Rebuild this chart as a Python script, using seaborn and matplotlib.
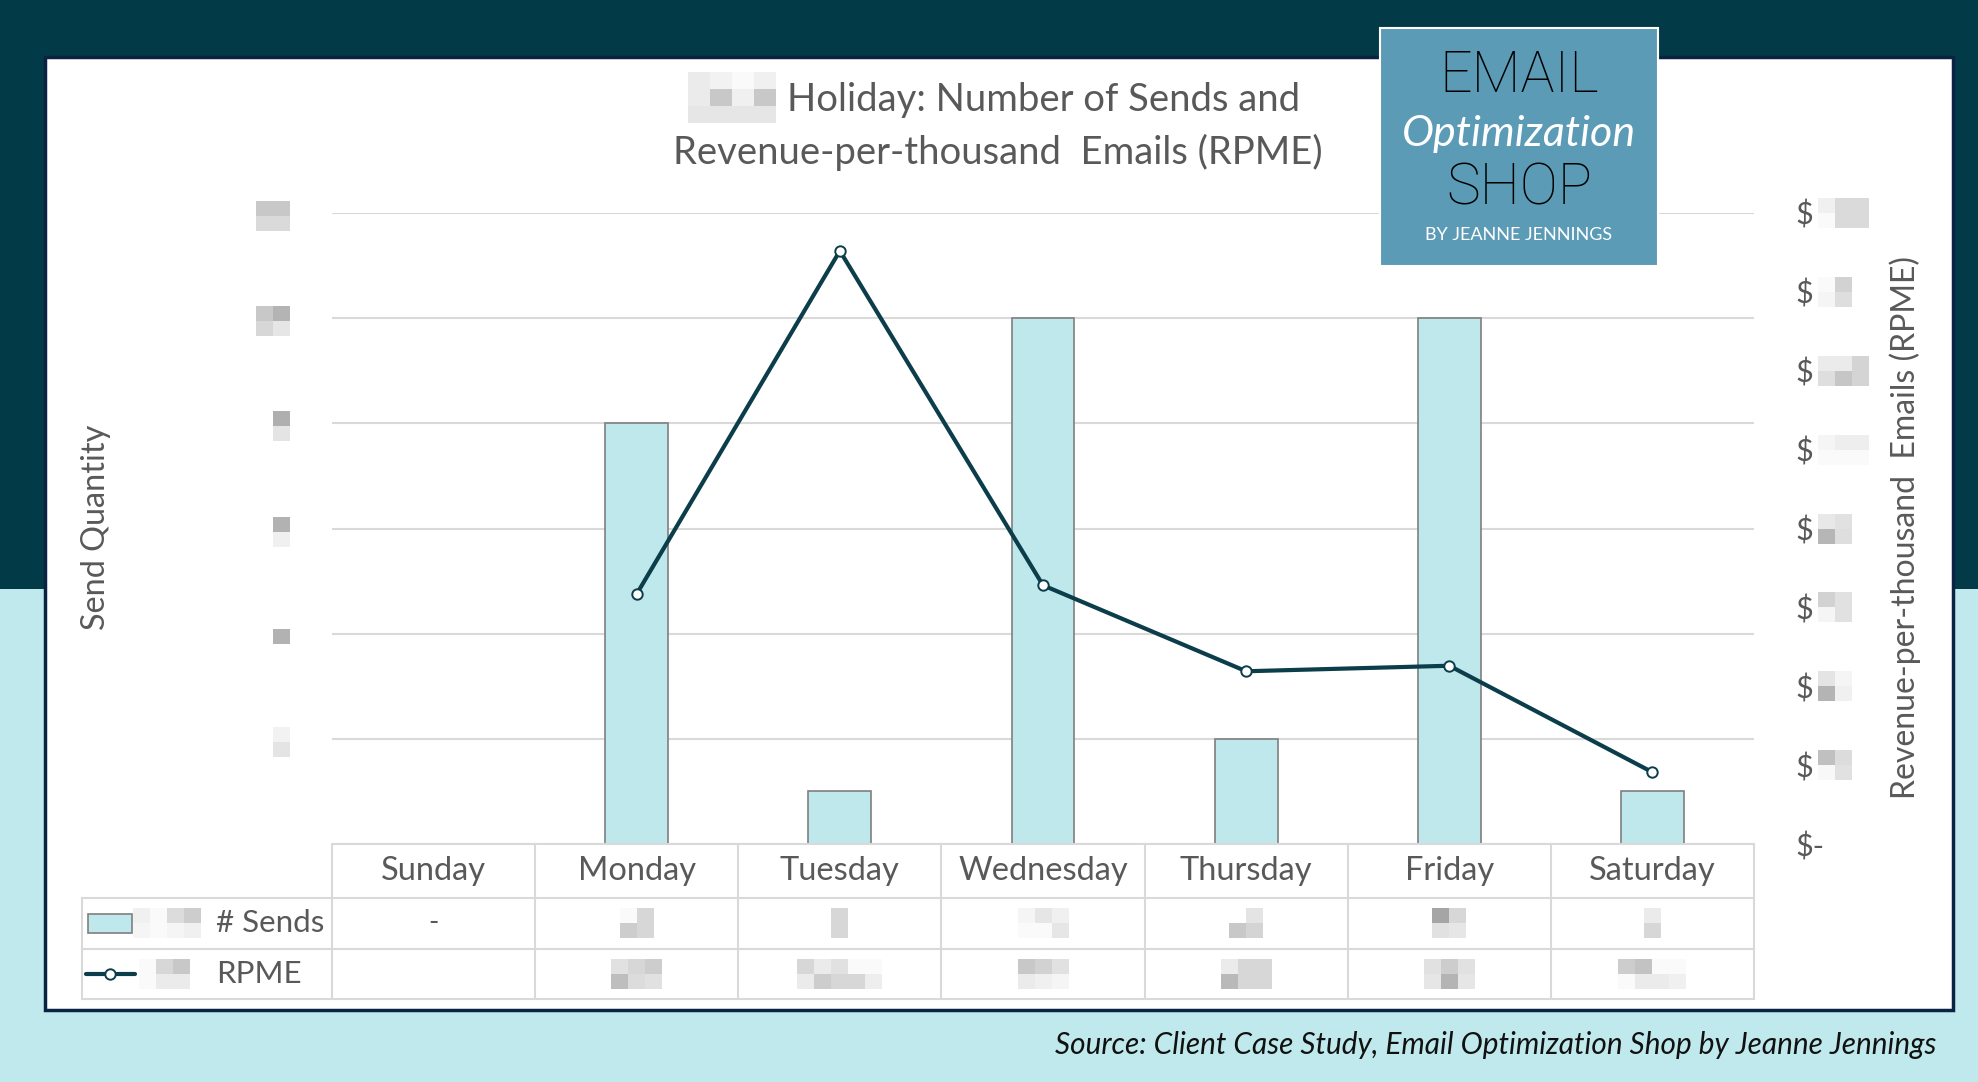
import numpy as np
import seaborn as sns
import matplotlib.pyplot as plt
from matplotlib.patches import Rectangle
from matplotlib.lines import Line2D
from matplotlib.transforms import Affine2D

# values read off the picture (real numbers are pixelated in the source,
# so they are kept in gridline units)
days = ['Sunday', 'Monday', 'Tuesday', 'Wednesday', 'Thursday', 'Friday', 'Saturday']
sends = [0, 4, 0.5, 5, 1, 5, 0.5]
rpme = [np.nan, 3.17, 7.52, 3.28, 2.19, 2.26, 0.91]
left_ticks = [0, 1, 2, 3, 4, 5, 6]
right_ticks = [0, 1, 2, 3, 4, 5, 6, 7, 8]
right_labels = ['$-'] + ['$'] * 8
sends_cells = ['-', '', '', '', '', '', '']

# grey shades of the pixelated (redacted) numbers
left_blur = {6: [[200, 200], [218, 218]], 5: [[200, 180], [215, 230]],
             4: [[None, 175], [None, 228]], 3: [[None, 178], [None, 240]],
             2: [[None, 178]], 1: [[None, 242], [None, 228]]}
right_blur = {8: [[240, 218, 218], [250, 218, 218]], 7: [[250, 210], [245, 222]],
              6: [[235, 235, 212], [222, 198, 212]], 5: [[245, 238, 238], [250, 250, 250]],
              4: [[232, 225], [182, 222]], 3: [[210, 225], [245, 225]],
              2: [[228, 245], [180, 240]], 1: [[192, 220], [248, 225]]}
sends_blur = [None, [[250, 215], [205, 215]], [[215], [215]], [[245, 230, 240], [250, 250, 230]],
              [[None, 228], [200, 212]], [[165, 215], [225, 230]], [[235], [215]]]
rpme_blur = [None, [[225, 215, 205], [190, 220, 225]], [[215, 235, 225, 250, 250], [235, 205, 215, 215, 238]],
             [[200, 210, 225], [235, 240, 245]], [[235, 215, 215], [185, 215, 215]],
             [[225, 205, 225], [230, 180, 230]], [[205, 195, 250, 250], [250, 235, 235, 240]]]

DARK = '#033A48'
CYAN_BG = '#BFE9EC'
BAR = '#BEE8EC'
LINE = '#0B3D4A'
GRID = '#D9D9D9'
TXT = '#595959'

W, H = 1978, 1082
sns.set_theme(style='white')
plt.rcParams['font.family'] = ['Lato', 'DejaVu Sans']

fig = plt.figure(figsize=(W / 100, H / 100), dpi=100)
fig.patch.set_facecolor(CYAN_BG)
# pixel coords, y measured from the top
px = Affine2D().scale(1 / W, -1 / H).translate(0, 1) + fig.transFigure

fig.add_artist(Rectangle((0, 0), W, 589, transform=px, facecolor=DARK, edgecolor='none', zorder=-10))
fig.add_artist(Rectangle((45, 57), 1908, 953, transform=px, facecolor='white',
                         edgecolor='#0A2342', lw=2.5, zorder=-9))


def pix(x0, y0, rows, cw=17, ch=15):
    for r, row in enumerate(rows):
        for c, g in enumerate(row):
            if g is None:
                continue
            fig.add_artist(Rectangle((x0 + c * cw, y0 + r * ch), cw, ch, transform=px,
                                     facecolor=str(g / 255), edgecolor='none', zorder=5))


ax = fig.add_axes([332 / W, 1 - 844 / H, (1754 - 332) / W, (844 - 213) / H])
ax.set_facecolor('none')
sns.barplot(x=days, y=sends, ax=ax, color=BAR, edgecolor='#7F7F7F', linewidth=1.2,
            width=0.31, saturation=1)
ax.set_xlim(-0.5, 6.5)
ax.set_ylim(0, 6)
ax.set_yticks(left_ticks)
ax.set_yticklabels([])
ax.set_xticks([])
ax.set_xlabel('')
ax.set_ylabel('')
ax.grid(axis='y', color=GRID, lw=1.5)
ax.set_axisbelow(True)
ax.tick_params(length=0)
for s in ax.spines.values():
    s.set_visible(False)

ax2 = ax.twinx()
ax2.set_facecolor('none')
sns.lineplot(x=np.arange(7), y=rpme, ax=ax2, color=LINE, lw=3, marker='o', markersize=7.5,
             markerfacecolor='white', markeredgecolor=LINE, markeredgewidth=1.4)
ax2.set_xlim(-0.5, 6.5)
ax2.set_ylim(0, 8)
ax2.set_yticks(right_ticks)
ax2.set_yticklabels(right_labels)
ax2.tick_params(axis='y', length=0, pad=30, labelsize=22, labelcolor=TXT)
ax2.set_ylabel('')
ax2.grid(False)
for s in ax2.spines.values():
    s.set_visible(False)

fig.canvas.draw()


def ypix(a, v):
    return H - a.transData.transform((0, v))[1]


def xpix(v):
    return ax.transData.transform((v, 0))[0]


# pixelated tick values
for v, rows in left_blur.items():
    y = ypix(ax, v)
    pix(290 - 2 * 17, y - 15 * len(rows) / 2 + 3, rows)
for v, rows in right_blur.items():
    y = ypix(ax2, v)
    pix(1818, y - 15 * len(rows) / 2, rows)

# data table under the plot
xb = [xpix(i - 0.5) for i in range(8)]
tbl = dict(transform=px, color=GRID, lw=1.5, zorder=4)
fig.add_artist(Line2D([xb[0], xb[-1]], [844, 844], **tbl))
for y in [898, 949, 999]:
    fig.add_artist(Line2D([82, xb[-1]], [y, y], **tbl))
for x in xb:
    fig.add_artist(Line2D([x, x], [844, 999], **tbl))
fig.add_artist(Line2D([82, 82], [898, 999], **tbl))

for i, d in enumerate(days):
    cx = (xb[i] + xb[i + 1]) / 2
    fig.text(cx / W, 1 - 871 / H, d, ha='center', va='center', fontsize=23.5, color=TXT)
    if sends_cells[i]:
        fig.text(cx / W, 1 - 923 / H, sends_cells[i], ha='center', va='center', fontsize=20, color=TXT)
    if sends_blur[i]:
        rows = sends_blur[i]
        pix(cx - 17 * len(rows[0]) / 2, 923 - 15, rows)
    if rpme_blur[i]:
        rows = rpme_blur[i]
        pix(cx - 17 * len(rows[0]) / 2, 974 - 15, rows)

# legend keys in the table
fig.add_artist(Rectangle((88, 914), 44, 19, transform=px, facecolor=BAR, edgecolor='#7F7F7F', lw=1.2, zorder=5))
pix(133, 908, [[240, 250, 220, 205], [245, 250, 245, 240]])
fig.add_artist(Line2D([86, 135], [974, 974], transform=px, color=LINE, lw=3, zorder=5))
fig.add_artist(Line2D([110], [974], transform=px, color=LINE, marker='o', markersize=7.5,
                      markerfacecolor='white', markeredgewidth=1.4, zorder=6))
pix(139, 959, [[250, 215, 200], [250, 235, 235]])
fig.text(216 / W, 1 - 923 / H, '# Sends', ha='left', va='center', fontsize=22.5, color=TXT)
fig.text(216 / W, 1 - 974 / H, 'RPME', ha='left', va='center', fontsize=22.5, color=TXT)

# titles and axis labels
pix(688, 72, [[235, 242, 250, 240], [235, 200, 240, 200], [230, 230, 230, 230]], cw=22, ch=17)
fig.text(787 / W, 1 - 100 / H, 'Holiday: Number of Sends and', ha='left', va='center',
         fontsize=27.5, color=TXT)
fig.text(998 / W, 1 - 152 / H, 'Revenue-per-thousand  Emails (RPME)', ha='center', va='center',
         fontsize=27.5, color=TXT)
fig.text(96 / W, 1 - 527 / H, 'Send Quantity', rotation=90, ha='center', va='center',
         fontsize=23.3, color=TXT)
fig.text(1905 / W, 1 - 527 / H, 'Revenue-per-thousand  Emails (RPME)', rotation=90,
         ha='center', va='center', fontsize=23, color=TXT)
fig.text(1936 / W, 1 - 1045 / H, 'Source: Client Case Study, Email Optimization Shop by Jeanne Jennings',
         ha='right', va='center', fontsize=21.4, style='italic', color='#111111')

# logo box
fig.add_artist(Rectangle((1380, 28), 278, 238, transform=px, facecolor='#5C9BB6',
                         edgecolor='white', lw=1.5, zorder=8))
logo = dict(ha='center', va='center', zorder=9)
fig.text(1519 / W, 1 - 77 / H, 'EMAIL', fontsize=41, family=['Roboto', 'Lato'],
         fontweight='light', color='black', **logo)
fig.text(1519 / W, 1 - 134 / H, 'Optimization', fontsize=31, style='italic', color='white', **logo)
fig.text(1519 / W, 1 - 189 / H, 'SHOP', fontsize=41, family=['Roboto', 'Lato'],
         fontweight='light', color='black', **logo)
fig.text(1519 / W, 1 - 235 / H, 'BY JEANNE JENNINGS', fontsize=13, color='white', **logo)

fig.savefig('out.png', dpi=100, facecolor=fig.get_facecolor())
